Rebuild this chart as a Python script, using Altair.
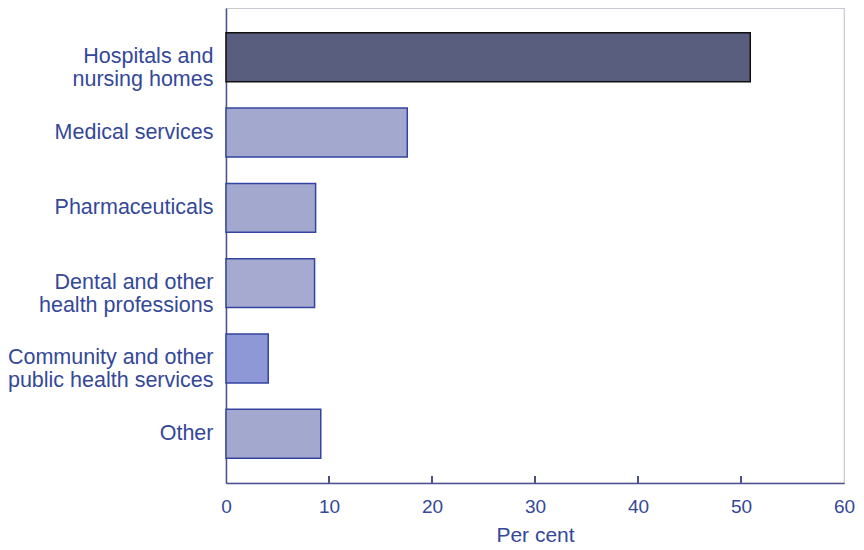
import altair as alt
import pandas as pd

categories = [
    "Hospitals and|nursing homes",
    "Medical services",
    "Pharmaceuticals",
    "Dental and other|health professions",
    "Community and other|public health services",
    "Other",
]
values = [50.9, 17.6, 8.7, 8.6, 4.1, 9.2]
fills = ["#5a5e7e", "#a3a8cf", "#a3a8cf", "#a6aad0", "#8e98d6", "#a3a8cf"]
strokes = ["#111111", "#3544a0", "#3544a0", "#3544a0", "#3544a0", "#3544a0"]
tick_values = [0, 10, 20, 30, 40, 50, 60]

df = pd.DataFrame({"cat": categories, "val": values, "fill": fills, "stroke": strokes})
ticks_df = pd.DataFrame({"t": tick_values[1:-1]})

W, H = 618, 475
FONT = "Liberation Sans"
BLUE = "#34489a"

xscale = alt.Scale(domain=[0, 60], nice=False)

bars = alt.Chart(df).mark_bar(strokeWidth=1.5).encode(
    x=alt.X("val:Q", scale=xscale,
            axis=alt.Axis(values=tick_values, title="Per cent", grid=False, ticks=False,
                          labelFont=FONT, labelFontSize=19, labelColor=BLUE, labelPadding=14,
                          titleFont=FONT, titleFontSize=21, titleColor=BLUE, titleFontWeight="normal",
                          titlePadding=8, domainColor="#4a5090", domainWidth=1.5,
                          labelFlush=False)),
    y=alt.Y("cat:N", sort=categories,
            scale=alt.Scale(paddingInner=0.35, paddingOuter=0.33),
            axis=alt.Axis(title=None, ticks=False, labelExpr="split(datum.label, '|')",
                          labelFont=FONT, labelFontSize=21.5, labelColor=BLUE, labelPadding=13,
                          labelLineHeight=22.5, domainColor="#4a5090", domainWidth=1.5,
                          labelLimit=300)),
    fill=alt.Fill("fill:N", scale=None),
    stroke=alt.Stroke("stroke:N", scale=None),
)

tickmarks = alt.Chart(ticks_df).mark_rule(color="#4a5090", strokeWidth=2).encode(
    x=alt.X("t:Q", scale=xscale),
    y=alt.value(H - 7),
    y2=alt.value(H),
)

chart = alt.layer(bars, tickmarks).properties(
    width=W, height=H,
    autosize=alt.AutoSizeParams(type="none"),
    padding={"left": 218, "top": 0, "right": 12, "bottom": 62},
).configure_view(stroke="#c8c8d2", strokeWidth=1.2)

chart.save("out.html", embed_options={"renderer": "svg", "actions": False})
